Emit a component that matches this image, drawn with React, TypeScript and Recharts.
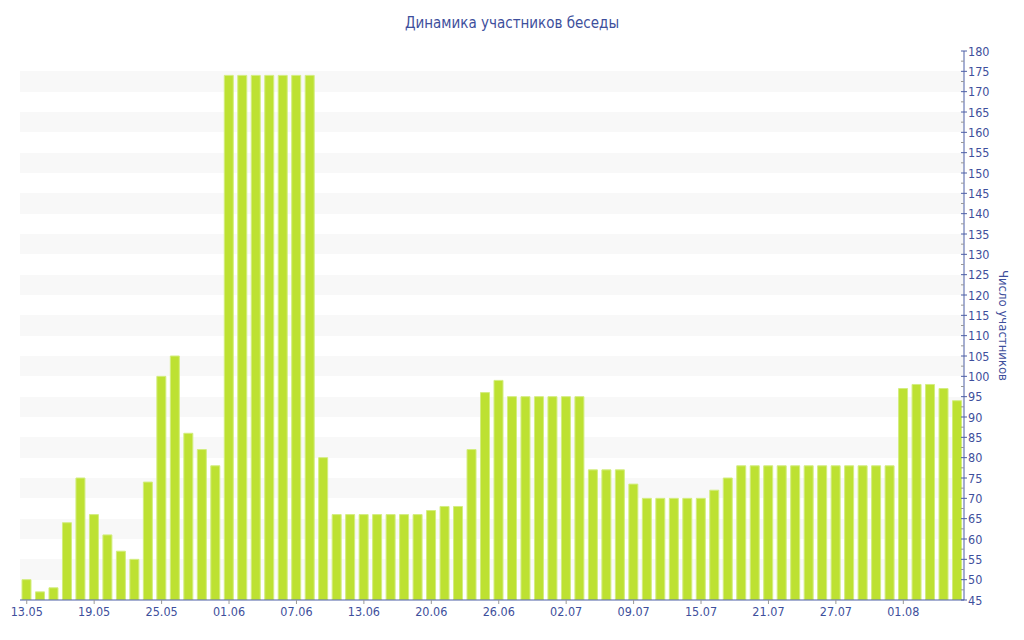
import React from 'react';
import { BarChart, Bar, XAxis, YAxis, CartesianGrid } from 'recharts';

document.body.style.margin = '0';

const dates = [
  '13.05', '14.05', '15.05', '16.05', '17.05',
  '19.05', '20.05', '21.05', '22.05', '23.05',
  '25.05', '26.05', '27.05', '28.05', '29.05',
  '01.06', '02.06', '03.06', '04.06', '05.06',
  '07.06', '08.06', '09.06', '10.06', '11.06',
  '13.06', '14.06', '15.06', '16.06', '17.06',
  '20.06', '21.06', '22.06', '23.06', '24.06',
  '26.06', '27.06', '28.06', '29.06', '30.06',
  '02.07', '03.07', '04.07', '05.07', '06.07',
  '09.07', '10.07', '11.07', '12.07', '13.07',
  '15.07', '16.07', '17.07', '18.07', '19.07',
  '21.07', '22.07', '23.07', '24.07', '25.07',
  '27.07', '28.07', '29.07', '30.07', '31.07',
  '01.08', '02.08', '03.08', '04.08', '05.08',
];

const members = [
  50, 47, 48, 64, 75,
  66, 61, 57, 55, 74,
  100, 105, 86, 82, 78,
  174, 174, 174, 174, 174,
  174, 174, 80, 66, 66,
  66, 66, 66, 66, 66,
  67, 68, 68, 82, 96,
  99, 95, 95, 95, 95,
  95, 95, 77, 77, 77,
  73.5, 70, 70, 70, 70,
  70, 72, 75, 78, 78,
  78, 78, 78, 78, 78,
  78, 78, 78, 78, 78,
  97, 98, 98, 97, 94,
];

const majorTicks = [
  45, 50, 55, 60, 65, 70, 75, 80, 85, 90, 95, 100, 105, 110, 115, 120, 125,
  130, 135, 140, 145, 150, 155, 160, 165, 170, 175, 180,
];
const yTicks = majorTicks.flatMap((v, i) => (i < majorTicks.length - 1 ? [v, v + 2.5] : [v]));

const data = dates.map((d, i) => ({ date: d, value: members[i] }));

const TEXT = '#3e4f9c';
const AXIS = '#4d5ea6';
const BAR = '#bde132';
const FONT = '"DejaVu Sans Condensed", "DejaVu Sans", sans-serif';

const YTick = (props: any) => {
  const { x, y, payload } = props;
  const v = payload.value;
  const major = v % 5 === 0;
  return (
    <g>
      <line x1={x - 3} x2={major ? x + 3 : x} y1={y} y2={y} stroke={major ? AXIS : '#999999'} strokeWidth={1} />
      {major && (
        <text x={x + 4} y={y} dy="0.36em" textAnchor="start" fill={TEXT} fontSize={12.5} fontFamily={FONT}>
          {v}
        </text>
      )}
    </g>
  );
};

export default function App() {
  return (
    <div style={{ position: 'relative', width: 1024, height: 640, fontFamily: FONT }}>
      <div
        style={{
          position: 'absolute',
          top: 13,
          left: 0,
          width: 1024,
          textAlign: 'center',
          fontSize: 15,
          lineHeight: '20px',
          color: TEXT,
          fontFamily: FONT,
        }}
      >
        Динамика участников беседы
      </div>
      <BarChart width={1024} height={640} data={data} margin={{ top: 51, right: 0, left: 20, bottom: 10 }}>
        <CartesianGrid
          vertical={false}
          stroke="none"
          horizontalFill={['none', 'none', '#f8f8f8', '#f8f8f8']}
        />
        <XAxis
          dataKey="date"
          interval={4}
          height={30}
          tickSize={4}
          tickMargin={3}
          axisLine={{ stroke: AXIS }}
          tickLine={{ stroke: '#999999' }}
          tick={{ fill: TEXT, fontSize: 12.5, fontFamily: FONT }}
        />
        <YAxis
          orientation="right"
          width={60}
          domain={[45, 180]}
          ticks={yTicks}
          interval={0}
          allowDataOverflow
          tickSize={0}
          tickMargin={0}
          tickLine={false}
          axisLine={{ stroke: AXIS }}
          tick={<YTick />}
          label={{
            value: 'Число участников',
            angle: 90,
            position: 'insideRight',
            offset: 20,
            fill: TEXT,
            fontSize: 13,
            fontFamily: FONT,
            style: { textAnchor: 'middle' },
          }}
        />
        <Bar
          dataKey="value"
          fill={BAR}
          stroke="#d3ed80"
          strokeWidth={1}
          barSize={9}
          isAnimationActive={false}
        />
      </BarChart>
    </div>
  );
}
